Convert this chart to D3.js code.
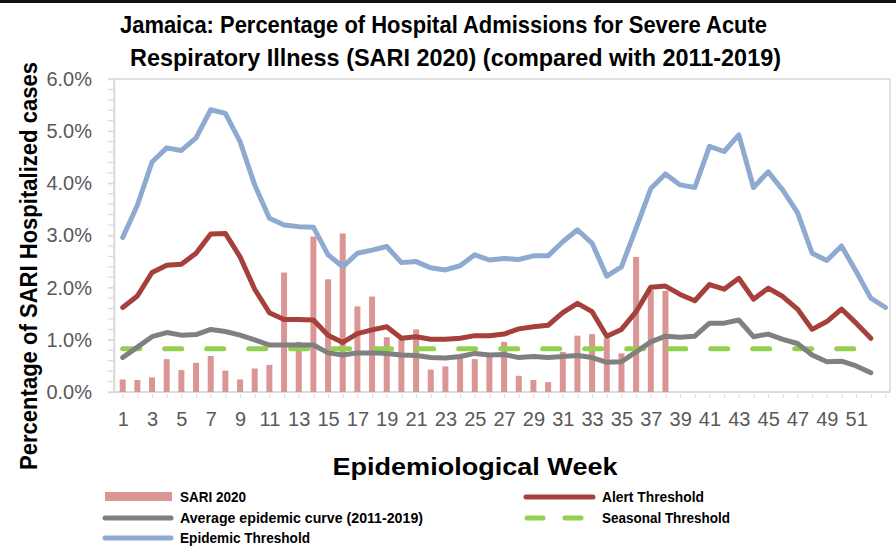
<!DOCTYPE html>
<html>
<head>
<meta charset="utf-8">
<script src="https://cdn.jsdelivr.net/npm/d3@7"></script>
<style>
  html, body { margin: 0; padding: 0; background: #fff; }
  svg { display: block; font-family: "Liberation Sans", Arial, sans-serif; }
</style>
</head>
<body>
<div id="chart"></div>
<script>
// epidemiological weeks 1..53
var weeks = d3.range(1, 54);

// values in percent
var sari2020 = [0.24, 0.23, 0.28, 0.63, 0.42, 0.56, 0.69, 0.41, 0.24, 0.45,
  0.52, 2.29, 0.96, 2.98, 2.16, 3.04, 1.64, 1.83, 1.05, 1.0,
  1.2, 0.43, 0.49, 0.68, 0.63, 0.68, 0.96, 0.31, 0.23, 0.19,
  0.77, 1.08, 1.11, 1.03, 0.74, 2.59, 1.95, 1.94];

var epidemicThreshold = [2.96, 3.58, 4.41, 4.68, 4.63, 4.87, 5.41, 5.34, 4.80, 3.97,
  3.33, 3.20, 3.17, 3.16, 2.63, 2.40, 2.66, 2.72, 2.79, 2.48,
  2.50, 2.38, 2.34, 2.42, 2.63, 2.53, 2.56, 2.54, 2.61, 2.61,
  2.88, 3.11, 2.85, 2.22, 2.40, 3.14, 3.90, 4.18, 3.97, 3.92,
  4.71, 4.61, 4.93, 3.92, 4.22, 3.87, 3.44, 2.66, 2.52, 2.80,
  2.31, 1.80, 1.62];

var alertThreshold = [1.62, 1.84, 2.29, 2.43, 2.45, 2.66, 3.03, 3.04, 2.59, 1.97,
  1.52, 1.39, 1.39, 1.38, 1.09, 0.95, 1.12, 1.19, 1.25, 1.03,
  1.06, 1.01, 1.01, 1.03, 1.08, 1.08, 1.11, 1.21, 1.25, 1.28,
  1.52, 1.70, 1.54, 1.07, 1.20, 1.54, 2.01, 2.03, 1.87, 1.75,
  2.06, 1.97, 2.18, 1.78, 1.99, 1.83, 1.59, 1.20, 1.35, 1.59,
  1.32, 1.03];

var averageCurve = [0.66, 0.86, 1.06, 1.14, 1.09, 1.10, 1.20, 1.16, 1.09, 1.00,
  0.90, 0.90, 0.90, 0.90, 0.75, 0.71, 0.75, 0.75, 0.74, 0.71,
  0.70, 0.66, 0.65, 0.68, 0.74, 0.71, 0.72, 0.66, 0.68, 0.66,
  0.68, 0.70, 0.66, 0.57, 0.58, 0.77, 0.96, 1.07, 1.05, 1.07,
  1.32, 1.32, 1.38, 1.06, 1.11, 1.01, 0.93, 0.71, 0.58, 0.59,
  0.50, 0.37];

var seasonalThreshold = weeks.slice(0, 52).map(function(){ return 0.83; });

var yTicks = [0, 1, 2, 3, 4, 5, 6];

var titleLines = ["Jamaica: Percentage of Hospital Admissions for Severe Acute",
  "Respiratory Illness (SARI 2020) (compared with 2011-2019)"];

function __init__(){
    var W = 896, H = 554;
    var left = 114, right = 890, top = 79, bottom = 392;

    var svg = d3.select("#chart").append("svg")
        .attr("width", W).attr("height", H);

    svg.append("rect").attr("x", 0).attr("y", 0).attr("width", W).attr("height", 3).attr("fill", "#111");

    var x = d3.scalePoint().domain(weeks).range([122.7, 885.5]);
    var y = d3.scaleLinear().domain([0, 6]).range([bottom, top]);

    // plot frame
    svg.append("rect").attr("x", left).attr("y", top)
        .attr("width", right - left).attr("height", bottom - top)
        .attr("fill", "none").attr("stroke", "#d9d9d9").attr("stroke-width", 1.5);

    // minor ticks on y axis every 0.2%
    svg.append("g").selectAll("line").data(d3.range(0, 6.01, 0.2)).join("line")
        .attr("x1", left - 6).attr("x2", left)
        .attr("y1", function(d){ return y(d); }).attr("y2", function(d){ return y(d); })
        .attr("stroke", "#d9d9d9").attr("stroke-width", 1.2);

    var yAxis = svg.append("g").attr("transform", "translate(" + left + ",0)")
        .call(d3.axisLeft(y).tickValues(yTicks).tickSize(6).tickPadding(16)
            .tickFormat(function(d){ return d.toFixed(1) + "%"; }));
    yAxis.select(".domain").attr("stroke", "#d9d9d9").attr("stroke-width", 1.5);
    yAxis.selectAll(".tick line").attr("stroke", "#d9d9d9");
    yAxis.selectAll("text").attr("fill", "#595959").style("font-size", "20px")
        .style("font-family", "Liberation Sans, Arial, sans-serif");

    var xAxis = svg.append("g").attr("transform", "translate(0," + bottom + ")")
        .call(d3.axisBottom(x).tickSize(6).tickPadding(14)
            .tickFormat(function(d){ return (d % 2 === 1 && d <= 51) ? d : ""; }));
    xAxis.select(".domain").attr("d", "M" + left + ",0H" + right)
        .attr("stroke", "#d9d9d9").attr("stroke-width", 1.5);
    xAxis.selectAll(".tick line").attr("stroke", "#d9d9d9").attr("y1", 2);
    xAxis.selectAll("text").attr("fill", "#595959").style("font-size", "20px")
        .style("font-family", "Liberation Sans, Arial, sans-serif");

    // bars
    svg.append("g").selectAll("rect").data(sari2020).join("rect")
        .attr("x", function(d, i){ return x(weeks[i]) - 3; })
        .attr("width", 6)
        .attr("y", function(d){ return y(d); })
        .attr("height", function(d){ return bottom - y(d); })
        .attr("fill", "#d99694");

    var line = d3.line()
        .x(function(d, i){ return x(weeks[i]); })
        .y(function(d){ return y(d); });

    function drawLine(data, color, dash){
        var p = svg.append("path").datum(data)
            .attr("d", line).attr("fill", "none")
            .attr("stroke", color).attr("stroke-width", 5)
            .attr("stroke-linejoin", "round").attr("stroke-linecap", "round");
        if (dash) p.attr("stroke-dasharray", dash).attr("stroke-linecap", "round");
        return p;
    }

    drawLine(seasonalThreshold, "#92d050", "17,25");
    drawLine(averageCurve, "#808080");
    drawLine(alertThreshold, "#a5403b");
    drawLine(epidemicThreshold, "#8eaad0");

    // titles
    svg.append("g").selectAll("text").data(titleLines).join("text")
        .attr("x", function(d, i){ return i ? 455.5 : 443.5; })
        .attr("y", function(d, i){ return 33 + i * 33; })
        .attr("text-anchor", "middle")
        .attr("textLength", function(d, i){ return i ? 651 : 647; })
        .attr("lengthAdjust", "spacingAndGlyphs")
        .style("font-size", "24px").style("font-weight", "bold").attr("fill", "#000")
        .text(function(d){ return d; });

    svg.append("text")
        .attr("transform", "translate(37,266) rotate(-90)")
        .attr("text-anchor", "middle")
        .attr("textLength", 408).attr("lengthAdjust", "spacingAndGlyphs")
        .style("font-size", "24px").style("font-weight", "bold")
        .text("Percentage of SARI Hospitalized cases");

    svg.append("text")
        .attr("x", 475).attr("y", 475)
        .attr("text-anchor", "middle")
        .attr("textLength", 285).attr("lengthAdjust", "spacingAndGlyphs")
        .style("font-size", "24px").style("font-weight", "bold")
        .text("Epidemiological Week");

    // legend
    var lg = svg.append("g").style("font-size", "15px").style("font-weight", "bold");
    lg.append("rect").attr("x", 105).attr("y", 492).attr("width", 67).attr("height", 9).attr("fill", "#d99694");
    lg.append("line").attr("x1", 105).attr("x2", 171).attr("y1", 518).attr("y2", 518)
        .attr("stroke", "#808080").attr("stroke-width", 5).attr("stroke-linecap", "round");
    lg.append("line").attr("x1", 105).attr("x2", 171).attr("y1", 538).attr("y2", 538)
        .attr("stroke", "#8eaad0").attr("stroke-width", 5).attr("stroke-linecap", "round");
    lg.append("line").attr("x1", 526).attr("x2", 593).attr("y1", 497).attr("y2", 497)
        .attr("stroke", "#a5403b").attr("stroke-width", 5).attr("stroke-linecap", "round");
    lg.append("line").attr("x1", 527).attr("x2", 582).attr("y1", 518).attr("y2", 518)
        .attr("stroke", "#92d050").attr("stroke-width", 5).attr("stroke-linecap", "round")
        .attr("stroke-dasharray", "16,22");

    var legendItems = [
        {label: "SARI 2020", x: 180, y: 502, w: 66},
        {label: "Average epidemic curve (2011-2019)", x: 180, y: 523, w: 243},
        {label: "Epidemic Threshold", x: 180, y: 543, w: 130},
        {label: "Alert Threshold", x: 602, y: 502, w: 102},
        {label: "Seasonal Threshold", x: 602, y: 523, w: 128}
    ];
    lg.selectAll("text").data(legendItems).join("text")
        .attr("x", function(d){ return d.x; }).attr("y", function(d){ return d.y; })
        .attr("textLength", function(d){ return d.w; })
        .attr("lengthAdjust", "spacingAndGlyphs")
        .text(function(d){ return d.label; });
}

__init__();
</script>
</body>
</html>
